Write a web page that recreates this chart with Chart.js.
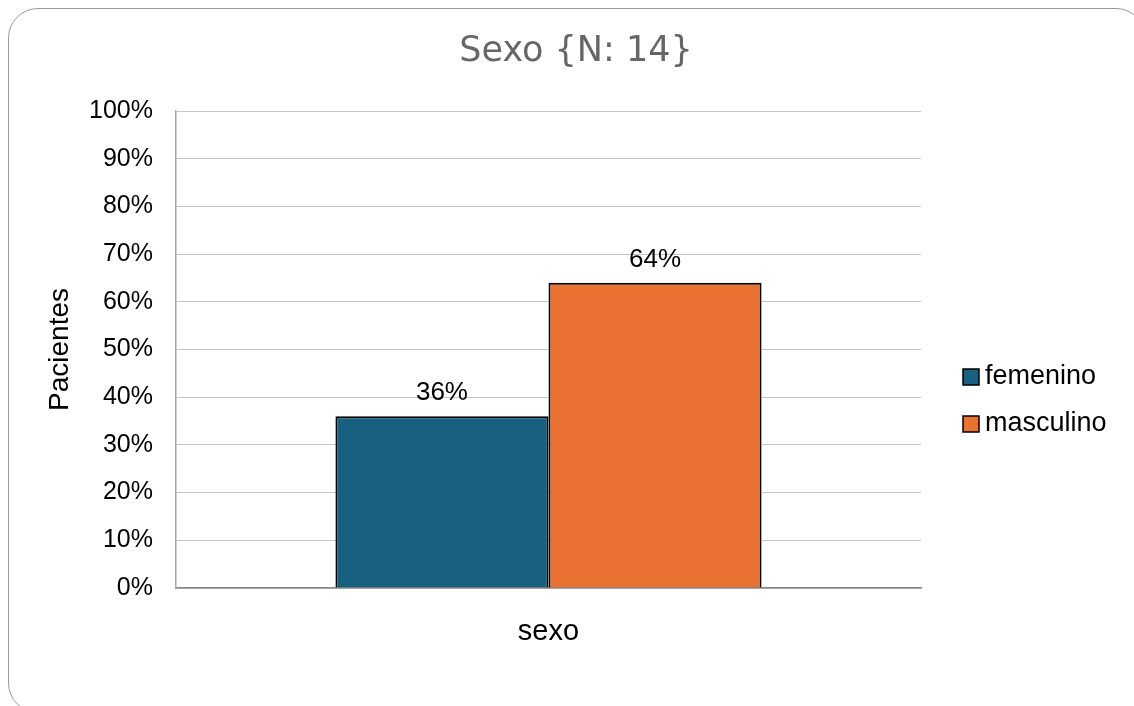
<!DOCTYPE html>
<html>
<head>
  <title>Sexo {N: 14}</title>
  <style>
    body { margin: 0; background: #fff; overflow: hidden; }
    .frame {
      position: absolute;
      left: 8px;
      top: 8px;
      width: 1136px;
      height: 703px;
      border: 1.5px solid #9a9a9a;
      border-radius: 30px;
    }
    .canvas {
      position: absolute;
      left: 0;
      top: 0;
      width: 1134px;
      height: 706px;
    }
  </style>
  <script src="https://cdn.jsdelivr.net/npm/chart.js@4.4.0/dist/chart.umd.min.js"></script>
</head>
<body>
  <div class="frame"></div>
  <div class="canvas">
    <canvas id="chart" width="1134" height="706"></canvas>
  </div>

  <script>
    const categories = ['sexo'];
    const seriesNames = ['femenino', 'masculino'];
    const femenino = [36];
    const masculino = [64];
    const yTicks = [0, 10, 20, 30, 40, 50, 60, 70, 80, 90, 100];
    const chartTitle = 'Sexo {N: 14}';
    const yTitle = 'Pacientes';

    const colors = { femenino: '#17607f', masculino: '#e97132' };
    const sans = '"Liberation Sans", Arial, sans-serif';

    // title, value labels and legend drawn on the canvas
    const extras = {
      id: 'extras',
      afterDatasetsDraw(chart) {
        const ctx = chart.ctx;
        ctx.save();
        ctx.fillStyle = '#000';
        ctx.font = '26px ' + sans;
        ctx.textAlign = 'center';
        ctx.textBaseline = 'alphabetic';
        chart.data.datasets.forEach((ds, i) => {
          chart.getDatasetMeta(i).data.forEach((bar, j) => {
            ctx.fillText(ds.data[j] + '%', bar.x, bar.y - 16);
          });
        });
        ctx.restore();
      },
      afterDraw(chart) {
        const ctx = chart.ctx;
        const area = chart.chartArea;
        ctx.save();
        ctx.fillStyle = '#666';
        ctx.font = '35px "DejaVu Sans", sans-serif';
        ctx.textAlign = 'center';
        ctx.textBaseline = 'alphabetic';
        ctx.fillText(chartTitle, 576, 61);

        const lx = area.right + 42;
        let ly = 369;
        chart.data.datasets.forEach(ds => {
          ctx.fillStyle = ds.backgroundColor;
          ctx.fillRect(lx, ly, 16, 16);
          ctx.strokeStyle = '#000';
          ctx.lineWidth = 1.5;
          ctx.strokeRect(lx, ly, 16, 16);
          ctx.fillStyle = '#000';
          ctx.font = '27px ' + sans;
          ctx.textAlign = 'left';
          ctx.textBaseline = 'middle';
          ctx.fillText(ds.label, lx + 22, ly + 8);
          ly += 47;
        });
        ctx.restore();
      }
    };

    window.chartObj = new Chart(document.querySelector('canvas#chart'), {
      type: 'bar',
      data: {
        labels: categories,
        datasets: [{
          label: seriesNames[0],
          data: femenino,
          backgroundColor: colors.femenino,
          borderColor: '#000',
          borderWidth: 2,
        },
        {
          label: seriesNames[1],
          data: masculino,
          backgroundColor: colors.masculino,
          borderColor: '#000',
          borderWidth: 2,
        }],
      },
      options: {
        responsive: false,
        animation: false,
        layout: {
          padding: { left: 43, right: 213, top: 111, bottom: 58 },
        },
        plugins: {
          legend: { display: false },
          title: { display: false },
          tooltip: { enabled: false },
        },
        datasets: {
          bar: { categoryPercentage: 0.572, barPercentage: 1 },
        },
        scales: {
          x: {
            grid: { display: false },
            border: { display: true, color: '#868686', width: 1.5 },
            ticks: { color: '#000', font: { family: sans, size: 29 }, padding: 19 },
            afterFit(scale) { scale.height = 60; },
          },
          y: {
            min: 0,
            max: 100,
            afterBuildTicks(scale) { scale.ticks = yTicks.map(v => ({ value: v })); },
            grid: { color: '#c4c4c4', lineWidth: 1, drawTicks: false },
            border: { display: true, color: '#a6a6a6', width: 1.5 },
            ticks: {
              color: '#000',
              font: { family: sans, size: 25 },
              padding: 23,
              callback: v => v + '%',
            },
            title: {
              display: true,
              text: yTitle,
              color: '#000',
              font: { family: sans, size: 28 },
              padding: 0,
            },
            afterFit(scale) { scale.width = 133; },
          },
        },
      },
      plugins: [extras],
    });
  </script>
</body>
</html>
